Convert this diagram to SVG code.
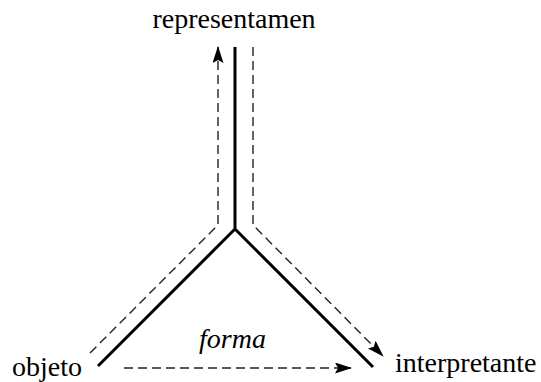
<svg xmlns="http://www.w3.org/2000/svg" width="541" height="382" viewBox="0 0 541 382">
<style>
.t{font-family:"Liberation Serif","Times New Roman",serif;font-size:28px;fill:#000}
.solid{stroke:#000;stroke-width:3;fill:none;stroke-linejoin:miter}
.dash{stroke:#222;stroke-width:1.4;fill:none;stroke-dasharray:9 5}
</style>
<defs>
<marker id="ah" markerWidth="17" markerHeight="11" refX="16" refY="5.5" orient="auto" markerUnits="userSpaceOnUse">
<path d="M0,0 L17,5.5 L0,11 L3,5.5 Z" fill="#000"/>
</marker>
</defs>
<g id="connectors">
<path class="solid" d="M235,47 L235,229 L98,366 M235,229 L373,367"/>
<path class="dash" d="M90,353 L218,225 L218,47" marker-end="url(#ah)"/>
<path class="dash" d="M253,47 L253,225 L383,356" marker-end="url(#ah)"/>
<path class="dash" d="M124,368 L351,368" marker-end="url(#ah)"/>
</g>
<g id="representamen"><text class="t" x="234" y="28" text-anchor="middle">representamen</text></g>
<g id="objeto"><text class="t" x="12" y="376">objeto</text></g>
<g id="interpretante"><text class="t" x="395" y="372">interpretante</text></g>
<g id="forma"><text class="t" x="199" y="348" font-style="italic">forma</text></g>
</svg>
